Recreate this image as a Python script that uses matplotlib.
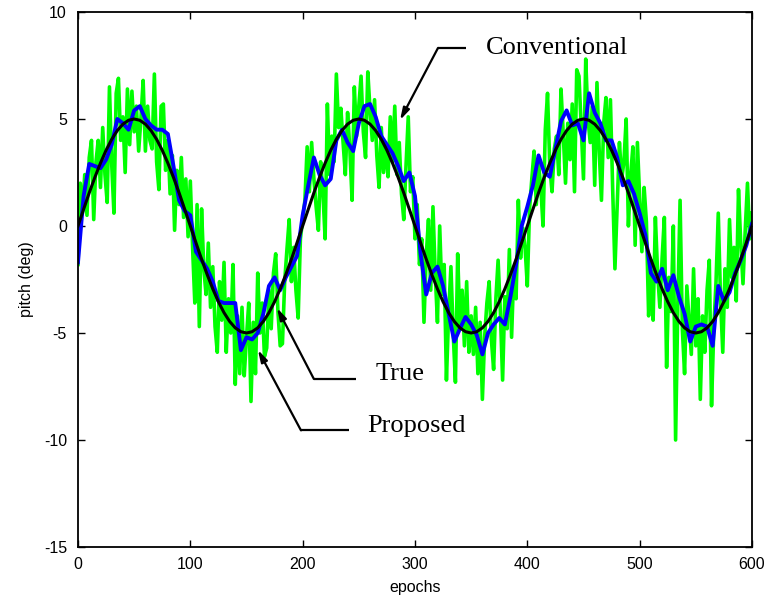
import numpy as np
import matplotlib
matplotlib.use('Agg')
import matplotlib.pyplot as plt

plt.rcParams['axes.unicode_minus'] = False

# values
# true pitch, every 5 epochs
true_pitch = [0, 0.78, 1.55, 2.27, 2.94, 3.54, 4.05, 4.46, 4.76, 4.94,
              5.00, 4.94, 4.76, 4.46, 4.05, 3.54, 2.94, 2.27, 1.55, 0.78,
              0, -0.78, -1.55, -2.27, -2.94, -3.54, -4.05, -4.46, -4.76, -4.94,
              -5.00, -4.94, -4.76, -4.46, -4.05, -3.54, -2.94, -2.27, -1.55, -0.78,
              0, 0.78, 1.55, 2.27, 2.94, 3.54, 4.05, 4.46, 4.76, 4.94,
              5.00, 4.94, 4.76, 4.46, 4.05, 3.54, 2.94, 2.27, 1.55, 0.78,
              0, -0.78, -1.55, -2.27, -2.94, -3.54, -4.05, -4.46, -4.76, -4.94,
              -5.00, -4.94, -4.76, -4.46, -4.05, -3.54, -2.94, -2.27, -1.55, -0.78,
              0, 0.78, 1.55, 2.27, 2.94, 3.54, 4.05, 4.46, 4.76, 4.94,
              5.00, 4.94, 4.76, 4.46, 4.05, 3.54, 2.94, 2.27, 1.55, 0.78,
              0, -0.78, -1.55, -2.27, -2.94, -3.54, -4.05, -4.46, -4.76, -4.94,
              -5.00, -4.94, -4.76, -4.46, -4.05, -3.54, -2.94, -2.27, -1.55, -0.78,
              0]

# proposed estimate, every 5 epochs
proposed = [-1.7, 1.4, 2.9, 2.8, 2.7, 3.1, 3.8, 5.0, 4.8, 4.5,
            5.4, 5.6, 5.0, 4.7, 4.5, 4.5, 4.3, 2.8, 1.2, 0.7,
            0.5, -1.2, -1.6, -2.0, -2.6, -3.5, -3.6, -3.6, -3.6, -5.8,
            -5.2, -5.3, -5.0, -4.1, -2.8, -2.4, -3.0, -2.4, -1.9, -1.4,
            0.5, 1.9, 3.2, 2.4, 1.9, 2.2, 4.0, 4.5, 3.9, 3.5,
            4.8, 5.6, 5.7, 5.1, 4.2, 3.8, 3.4, 2.8, 2.1, 2.5,
            1.4, -1.3, -3.2, -2.2, -1.9, -2.8, -4.1, -5.4, -4.8, -4.25,
            -4.6, -5.1, -6.0, -5.0, -4.6, -4.3, -4.6, -3.3, -1.8, 0.0,
            0.9, 1.9, 3.3, 2.5, 2.3, 3.6, 4.9, 5.4, 4.7, 4.8,
            4.0, 6.2, 5.3, 4.8, 4.0, 4.0, 3.2, 1.9, 2.1, 1.5,
            0.6, -0.4, -2.2, -2.6, -2.0, -3.0, -2.3, -3.3, -4.1, -5.4,
            -4.7, -4.6, -4.7, -5.6, -2.8, -3.5, -3.1, -2.2, -1.6, -0.9,
            0.1]

# conventional estimate, every 2 epochs
conventional = [
    -1.8, 2.0, 0.6, 2.4, 0.5, 3.2, 4.0, 0.3, 3.0, 4.0,
    1.8, 4.6, 2.4, 1.1, 6.5, 2.9, 0.6, 6.2, 6.9, 4.0,
    5.1, 2.5, 6.4, 3.8, 6.3, 4.4, 5.6, 3.5, 5.0, 6.8,
    3.5, 5.6, 4.0, 3.6, 7.1, 3.0, 1.7, 5.6, 5.7, 2.6,
    4.0, 1.5, 3.3, -0.2, 2.6, 1.0, 3.2, 0.4, 2.2, -0.5,
    2.1,
    -1.0, -3.6, 1.0, -4.7, 0.8, -2.0, -3.2, -0.8, -3.8, -1.9,
    -4.7, -5.9, -2.6, -4.4, -1.7, -5.9, -3.4, -5.0, -1.8, -7.4,
    -4.2, -6.9, -3.8, -7.0, -5.2, -3.6, -8.2, -4.5, -6.9, -2.2,
    -5.0, -3.6, -6.1, -5.7, -3.0, -4.8, -2.2, -1.3, -4.0, -5.6,
    -5.5, -2.6, -1.1, 0.3, -2.6, -1.0, -3.0, -4.3, -0.6, 0.3,
    1.2, 3.7, 1.6, 3.9, 2.2, 0.9, -0.2, 3.0, 1.6, -0.6,
    5.7, 2.4, 4.2, 3.0, 7.1, 4.6, 5.5, 3.9, 2.4, 5.3,
    3.6, 1.2, 6.5, 4.2, 5.6, 7.0, 4.4, 3.2, 7.2, 5.4,
    4.0, 5.9, 3.3, 1.8, 4.6, 2.5, 3.8, 2.3, 5.1, 3.0,
    5.6, 2.4, 3.9, 1.5, 0.3, 2.8, 5.1, 1.6, 2.3, -0.6,
    1.0, -1.8, -0.6, -4.5, -1.4, 0.3, -3.0, 0.9, -2.2, -4.5,
    0.0, -3.2, -1.8, -7.2, -4.0, -1.9, -5.0, -7.3, -1.3, -4.6,
    -3.0, -5.6, -2.6, -5.9, -4.2, -6.0, -3.8, -6.9, -4.5, -8.1,
    -5.2, -3.6, -2.6, -5.3, -6.7, -3.4, -1.6, -4.0, -7.2, -3.3,
    -4.8, -1.1, -5.2, -2.0, -3.4, 1.2, -1.5, -0.1, -1.0, -2.8,
    0.8, 2.2, 3.5, 1.0, 2.9, 1.8, 0.0, 4.5, 6.2, 2.8,
    1.6, 3.6, 4.2, 2.4, 6.4, 4.3, 2.0, 4.8, 3.1, 5.7,
    1.6, 7.3, 7.0, 4.6, 2.2, 7.8, 5.0, 3.9, 5.6, 1.9,
    6.7, 3.5, 1.2, 4.8, 6.0, 3.2, 5.9, 1.7, -2.0, 0.9,
    3.9, 2.2, 3.0, 5.0, 0.0, 2.4, 3.7, -0.9, 3.9, 1.4,
    -1.2, 1.8, 0.2, -4.2, -1.6, -4.4, 0.4, -2.2, -3.8, -1.5,
    0.4, -6.6, -2.4, -4.0, 0.0, -10.0, -3.6, 1.2, -4.8, -6.9,
    -2.8, -4.4, -6.0, -2.0, -5.6, -3.4, -8.1, -4.2, -5.9, -3.0,
    -1.6, -8.4, -4.8, -2.6, 0.6, -3.4, -5.9, -2.0, -3.8, 0.3,
    -2.4, -1.0, -3.5, 1.7, -0.8, -2.7, -0.2, 2.0, -0.6, 0.6]

ep5 = np.arange(0, 601, 5)
ep2 = np.arange(0, 601, 2)

fig = plt.figure(figsize=(7.73, 6.08), dpi=100)
ax = fig.add_axes([0.1009, 0.1003, 0.8719, 0.88])

ax.plot(ep2, conventional, color=(0, 1, 0), lw=2.6)
ax.plot(ep5, proposed, color=(0, 0, 1), lw=2.8)
ax.plot(ep5, true_pitch, color='k', lw=2.2)

ax.set_xlim(0, 600)
ax.set_ylim(-15, 10)
ax.set_xticks(range(0, 601, 100))
ax.set_yticks(range(-15, 11, 5))
ax.tick_params(direction='in', top=True, right=True, length=5, width=1,
               labelsize=11.5)
ax.tick_params(axis='x', pad=7)
ax.tick_params(axis='y', pad=8)
for lab in ax.get_xticklabels() + ax.get_yticklabels():
    lab.set_family('Liberation Sans')
for sp in ax.spines.values():
    sp.set_linewidth(1.3)

ax.set_xlabel('epochs', family='Liberation Sans', fontsize=11.5, labelpad=6)
ax.set_ylabel('pitch (deg)', family='Liberation Sans', fontsize=11.5, labelpad=7)

# annotations: text, start and elbow of the leader line, arrow tip
notes = [('Conventional', (363, 8.32), (345, 8.32), (320.5, 8.32), (286.7, 4.95)),
         ('True', (264.5, -6.9), (247.5, -7.15), (210, -7.15), (177.2, -3.83)),
         ('Proposed', (257.5, -9.35), (241.3, -9.55), (198.5, -9.55), (160.2, -5.79))]
for txt, tpos, start, corner, tip in notes:
    ax.text(tpos[0], tpos[1], txt, family='Liberation Serif', fontsize=19,
            va='center', ha='left')
    ax.plot([start[0], corner[0]], [start[1], corner[1]], color='k', lw=1.6,
            solid_capstyle='butt')
    ax.annotate('', xy=tip, xytext=corner,
                arrowprops=dict(arrowstyle='-|>,head_length=0.7,head_width=0.2',
                                color='k', lw=1.6, shrinkA=0, shrinkB=0))

fig.savefig('out.png', dpi=100)
